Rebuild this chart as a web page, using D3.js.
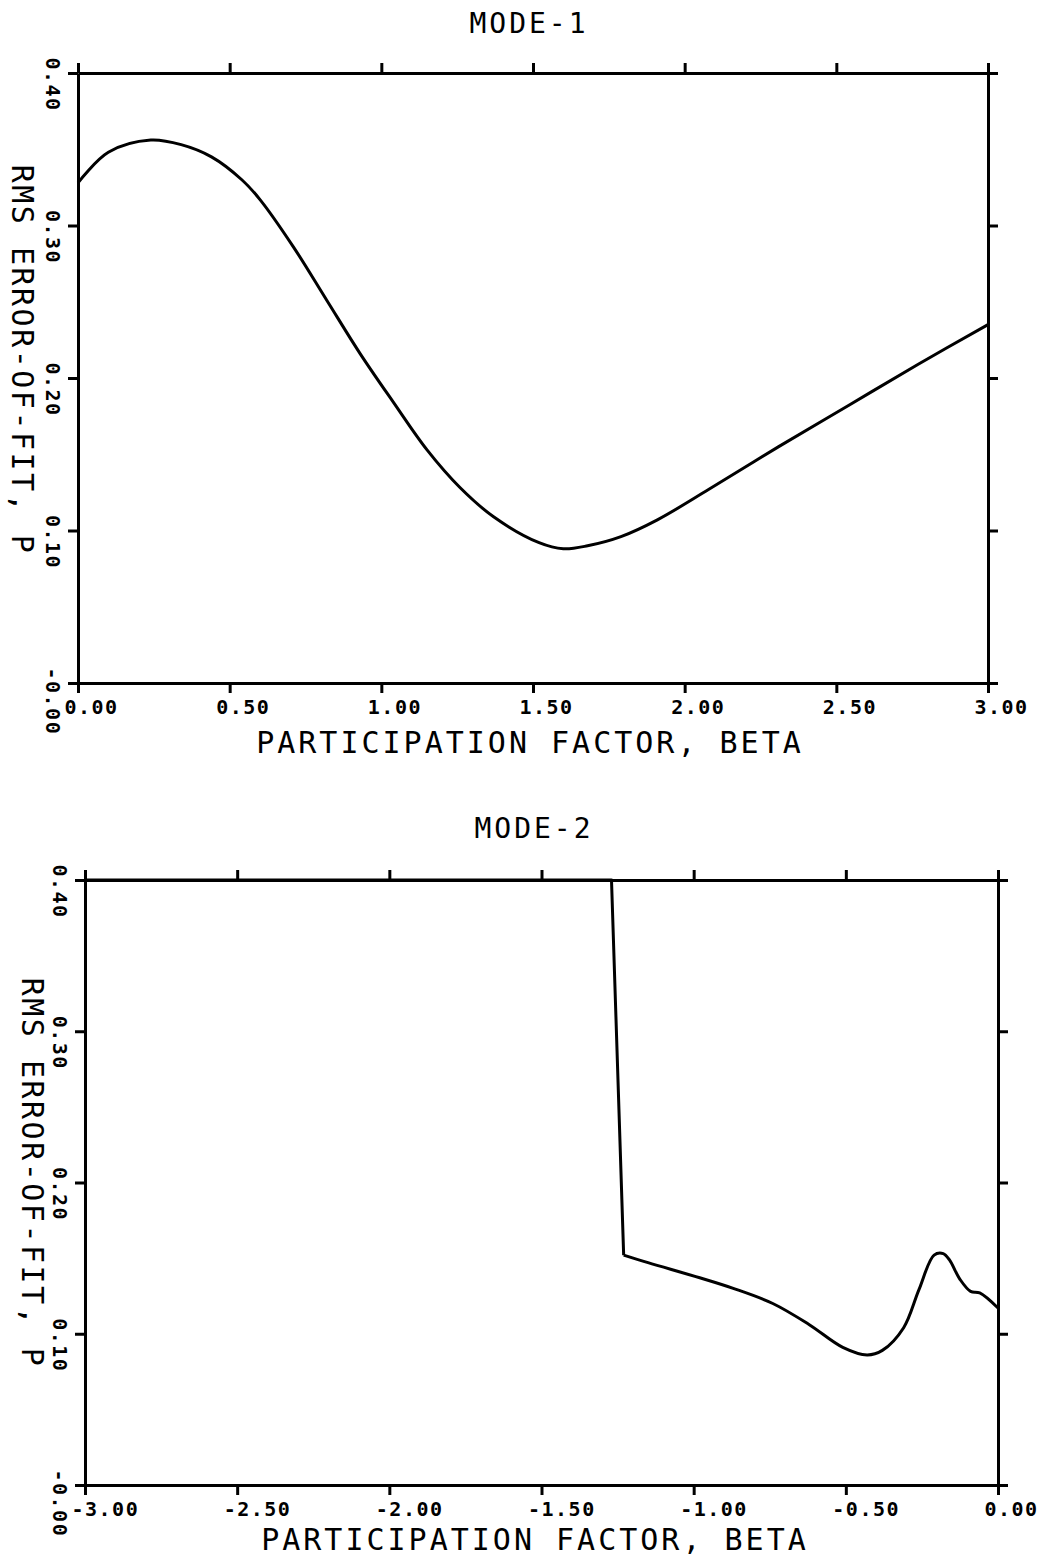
<!DOCTYPE html>
<html>
<head>
<meta charset="utf-8">
<script src="https://cdn.jsdelivr.net/npm/d3@7"></script>
<style>
  body { margin: 0; background: #fff; }
</style>
</head>
<body>
<svg width="1046" height="1557"></svg>
<script>
// values (beta, rms error-of-fit)
const mode1Beta = [0.00, 0.10, 0.24, 0.34, 0.44, 0.54, 0.60, 0.71, 0.82, 0.93, 1.04, 1.15,
                   1.26, 1.37, 1.52, 1.60, 1.68, 1.79, 1.91, 2.08, 2.31, 2.54, 2.77, 3.00];
const mode1Rms = [0.328, 0.348, 0.356, 0.353, 0.345, 0.330, 0.317, 0.286, 0.251, 0.216, 0.184, 0.153,
                  0.128, 0.109, 0.092, 0.088, 0.090, 0.096, 0.107, 0.127, 0.155, 0.182, 0.209, 0.235];

// mode 2 is clipped at 0.40 left of the jump
const mode2Beta = [-3.00, -1.27, -1.23, -1.15, -0.98, -0.87, -0.74, -0.62, -0.51, -0.43,
                   -0.38, -0.31, -0.26, -0.21, -0.18, -0.16, -0.125, -0.09, -0.06, 0.00];
const mode2Rms = [0.400, 0.400, 0.152, 0.147, 0.137, 0.130, 0.120, 0.106, 0.091, 0.086,
                  0.089, 0.104, 0.129, 0.152, 0.153, 0.149, 0.136, 0.128, 0.127, 0.117];

const yTicks = [0, 0.1, 0.2, 0.3, 0.4];
const yTickLabels = ["-0.00", "0.10", "0.20", "0.30", "0.40"];
const mode1Ticks = [0, 0.5, 1, 1.5, 2, 2.5, 3];
const mode1TickLabels = ["0.00", "0.50", "1.00", "1.50", "2.00", "2.50", "3.00"];
const mode2Ticks = [-3, -2.5, -2, -1.5, -1, -0.5, 0];
const mode2TickLabels = ["-3.00", "-2.50", "-2.00", "-1.50", "-1.00", "-0.50", "0.00"];

const MONO = "DejaVu Sans Mono";
const svg = d3.select("svg");

function drawPanel(p) {
    const x = d3.scaleLinear().domain(p.xDomain).range([p.left, p.right]);
    const y = d3.scaleLinear().domain([0, 0.4]).range([p.bottom, p.top]);

    const g = svg.append("g");

    function styleAxis(sel) {
        sel.attr("font-family", MONO);
        sel.select(".domain").attr("stroke", "#000").attr("stroke-width", 3);
        sel.selectAll(".tick line").attr("stroke", "#000").attr("stroke-width", 3);
    }

    g.append("g")
        .attr("transform", "translate(0," + p.top + ")")
        .call(d3.axisTop(x).tickValues(p.xTicks).tickSize(10).tickSizeOuter(0).tickFormat(""))
        .call(styleAxis);

    g.append("g")
        .attr("transform", "translate(" + p.right + ",0)")
        .call(d3.axisRight(y).tickValues(yTicks).tickSize(10).tickSizeOuter(0).tickFormat(""))
        .call(styleAxis);

    const xAxis = g.append("g")
        .attr("transform", "translate(0," + p.bottom + ")")
        .call(d3.axisBottom(x).tickValues(p.xTicks).tickSize(10).tickSizeOuter(0)
            .tickFormat(function (d, i) { return p.xTickLabels[i]; }))
        .call(styleAxis);
    xAxis.selectAll(".tick text")
        .attr("fill", "#000")
        .attr("font-size", 20)
        .attr("font-weight", "bold")
        .attr("letter-spacing", 1.5)
        .attr("text-anchor", "start")
        .attr("x", -14)
        .attr("y", 31)
        .attr("dy", null);

    const yAxis = g.append("g")
        .attr("transform", "translate(" + p.left + ",0)")
        .call(d3.axisLeft(y).tickValues(yTicks).tickSize(10).tickSizeOuter(0)
            .tickFormat(function (d, i) { return yTickLabels[i]; }))
        .call(styleAxis);
    // plotter style: labels turned 90 degrees, reading downwards
    yAxis.selectAll(".tick text")
        .attr("fill", "#000")
        .attr("font-size", 20)
        .attr("font-weight", "bold")
        .attr("letter-spacing", 1.5)
        .attr("text-anchor", "start")
        .attr("x", 0)
        .attr("y", 0)
        .attr("dy", null)
        .attr("dominant-baseline", "central")
        .attr("transform", "translate(-25,-16) rotate(90)");

    const pts = p.beta.map(function (b, i) { return [b, p.rms[i]]; });
    const line = d3.line()
        .x(function (d) { return x(d[0]); })
        .y(function (d) { return y(d[1]); });

    const segments = p.split ? [pts.slice(0, p.split + 1), pts.slice(p.split)] : [pts];
    segments.forEach(function (seg, i) {
        g.append("path")
            .datum(seg)
            .attr("fill", "none")
            .attr("stroke", "#000")
            .attr("stroke-width", 3)
            .attr("stroke-linejoin", "round")
            .attr("d", line.curve(p.split && i === 0 ? d3.curveLinear : d3.curveCatmullRom.alpha(0.5)));
    });

    g.append("text")
        .attr("x", p.titleX)
        .attr("y", p.titleY)
        .attr("text-anchor", "middle")
        .attr("font-family", MONO)
        .attr("font-size", 28)
        .attr("letter-spacing", 3)
        .text(p.title);

    g.append("text")
        .attr("x", p.xTitleX)
        .attr("y", p.xTitleY)
        .attr("text-anchor", "middle")
        .attr("font-family", MONO)
        .attr("font-size", 30)
        .attr("letter-spacing", 3)
        .text("PARTICIPATION FACTOR, BETA");

    g.append("text")
        .attr("transform", "translate(" + p.yTitleX + "," + p.yTitleY + ") rotate(90)")
        .attr("text-anchor", "middle")
        .attr("dominant-baseline", "central")
        .attr("font-family", MONO)
        .attr("font-size", 30)
        .attr("letter-spacing", 2.5)
        .text("RMS ERROR-OF-FIT, P");
}

drawPanel({
    title: "MODE-1", titleX: 529, titleY: 33,
    left: 78, right: 988, top: 73, bottom: 683,
    xDomain: [0, 3], xTicks: mode1Ticks, xTickLabels: mode1TickLabels,
    beta: mode1Beta, rms: mode1Rms,
    xTitleX: 530, xTitleY: 753,
    yTitleX: 22, yTitleY: 360
});

drawPanel({
    title: "MODE-2", titleX: 534, titleY: 838,
    left: 85, right: 998, top: 880, bottom: 1485,
    xDomain: [-3, 0], xTicks: mode2Ticks, xTickLabels: mode2TickLabels,
    beta: mode2Beta, rms: mode2Rms, split: 2,
    xTitleX: 535, xTitleY: 1550,
    yTitleX: 32, yTitleY: 1173
});
</script>
</body>
</html>
